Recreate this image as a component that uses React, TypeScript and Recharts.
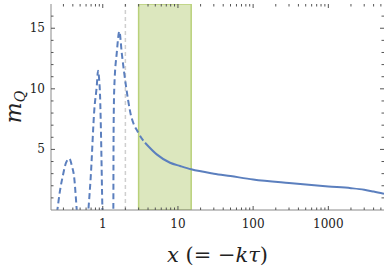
import React from "react";
import {
  ComposedChart,
  Line,
  XAxis,
  YAxis,
  ReferenceArea,
  ReferenceLine,
} from "recharts";

// ---- data ----
const dashedX = [
  0.235, 0.249, 0.27, 0.294, 0.325, 0.36, 0.39, 0.415, 0.451, 0.47,
  0.625, 0.644, 0.693, 0.773, 0.832, 0.866, 0.895, 0.92, 0.95, 0.99, 1.0,
  1.37, 1.383, 1.39, 1.405, 1.426, 1.535, 1.663, 1.79, 2.04, 2.31, 2.97, 3.65,
];
const dashedY = [
  -1.0, 0, 1.6, 2.8, 3.9, 4.24, 3.6, 2.8, 0, -1.5,
  -1.0, 0, 2.8, 8.3, 10.2, 11.5, 10.8, 9.5, 6.0, 0, -1.0,
  -1.0, 0, 5.0, 8.5, 10.2, 12.95, 14.75, 12.95, 10.2, 8.14, 6.37, 5.55,
];
const solidX = [3.65, 5.22, 7.85, 10.7, 15, 30, 50, 100, 300, 1000, 2000, 3000, 4000, 5500];
const solidY = [5.55, 4.59, 3.9, 3.63, 3.36, 3.0, 2.8, 2.52, 2.22, 1.94, 1.8, 1.67, 1.52, 1.33];

const xMajorTicks = [1, 10, 100, 1000];
const xMinorTicks = [
  0.3, 0.4, 0.5, 0.6, 0.7, 0.8, 0.9,
  2, 3, 4, 5, 6, 7, 8, 9,
  20, 30, 40, 50, 60, 70, 80, 90,
  200, 300, 400, 500, 600, 700, 800, 900,
  2000, 3000, 4000, 5000,
];
const yMajorTicks = [5, 10, 15];
const yMinorTicks = [1, 2, 3, 4, 6, 7, 8, 9, 11, 12, 13, 14, 16];

const xDomain = [0.205, 5500];
const yDomain = [0, 17];
const shadedRange = [3, 15];
const markerX = 2;

// ---- layout ----
const W = 387;
const H = 269;
const M = { top: 4, right: 3, left: 0, bottom: 0 };
const Y_AXIS_W = 51;
const X_AXIS_H = 59;
const PLOT_TOP = M.top;
const PLOT_BOTTOM = H - M.bottom - X_AXIS_H;
const PLOT_LEFT = M.left + Y_AXIS_W;
const PLOT_RIGHT = W - M.right;

const FONT = "DejaVu Serif, serif";
const TICK_COLOR = "#555";
const FRAME_COLOR = "#8a8a8a";
const LINE_COLOR = "#5b7fbe";

const data = (() => {
  const rows: { x: number; dashed: number | null; solid: number | null }[] = [];
  dashedX.forEach((x, i) => rows.push({ x, dashed: dashedY[i], solid: null }));
  solidX.forEach((x, i) => {
    const existing = rows.find((r) => r.x === x);
    if (existing) existing.solid = solidY[i];
    else rows.push({ x, dashed: null, solid: solidY[i] });
  });
  rows.sort((a, b) => a.x - b.x);
  return rows;
})();

const majorSet = new Set(xMajorTicks);
const yMajorSet = new Set(yMajorTicks);

const XTick = (props: any) => {
  const { x, payload } = props;
  const v = payload.value;
  const major = majorSet.has(v);
  const len = major ? 4 : 2.5;
  return (
    <g>
      <line x1={x} x2={x} y1={PLOT_BOTTOM} y2={PLOT_BOTTOM - len} stroke={TICK_COLOR} strokeWidth={1} />
      <line x1={x} x2={x} y1={PLOT_TOP} y2={PLOT_TOP + len} stroke={TICK_COLOR} strokeWidth={1} />
      {major && (
        <text x={x} y={PLOT_BOTTOM + 18} textAnchor="middle" style={{ fontFamily: FONT, fontSize: 12 }} fill="#222">
          {String(v)}
        </text>
      )}
    </g>
  );
};

const YTick = (props: any) => {
  const { y, payload } = props;
  const v = payload.value;
  const major = yMajorSet.has(v);
  const len = major ? 4 : 2.5;
  return (
    <g>
      <line x1={PLOT_LEFT} x2={PLOT_LEFT + len} y1={y} y2={y} stroke={TICK_COLOR} strokeWidth={1} />
      <line x1={PLOT_RIGHT} x2={PLOT_RIGHT - len} y1={y} y2={y} stroke={TICK_COLOR} strokeWidth={1} />
      {major && (
        <text x={PLOT_LEFT - 6} y={y + 4} textAnchor="end" style={{ fontFamily: FONT, fontSize: 12 }} fill="#222">
          {String(v)}
        </text>
      )}
    </g>
  );
};

const XLabel = () => (
  <text x={(PLOT_LEFT + PLOT_RIGHT) / 2} y={262} textAnchor="middle" style={{ fontFamily: FONT, fontSize: 21 }} fill="#222">
    <tspan fontStyle="italic">x</tspan>
    <tspan> (= −</tspan>
    <tspan fontStyle="italic">kτ</tspan>
    <tspan>)</tspan>
  </text>
);

const YLabel = () => {
  const cx = 21;
  const cy = (PLOT_TOP + PLOT_BOTTOM) / 2;
  return (
    <text
      x={cx}
      y={cy}
      transform={`rotate(-90, ${cx}, ${cy})`}
      textAnchor="middle"
      style={{ fontFamily: FONT }}
      fill="#222"
    >
      <tspan fontStyle="italic" fontSize={22}>m</tspan>
      <tspan fontStyle="italic" fontSize={14} dy={4}>Q</tspan>
    </text>
  );
};

export default function App() {
  const allXTicks = [...xMinorTicks, ...xMajorTicks].sort((a, b) => a - b);
  const allYTicks = [...yMinorTicks, ...yMajorTicks].sort((a, b) => a - b);
  return (
    <div style={{ position: "absolute", left: 0, top: 0, width: W, height: H, background: "#fff" }}>
      <ComposedChart width={W} height={H} data={data} margin={M}>
        <ReferenceArea
          x1={shadedRange[0]}
          x2={shadedRange[1]}
          y1={yDomain[0]}
          y2={yDomain[1]}
          fill="#a3bf55"
          fillOpacity={0.38}
          stroke="#b9d17a"
          strokeWidth={1.5}
          ifOverflow="hidden"
        />
        <ReferenceLine x={markerX} stroke="#cfcfcf" strokeWidth={1.5} strokeDasharray="4 3" />
        <Line
          dataKey="dashed"
          type="monotone"
          stroke={LINE_COLOR}
          strokeWidth={2}
          strokeDasharray="6 3.5"
          dot={false}
          activeDot={false}
          connectNulls={false}
          isAnimationActive={false}
        />
        <Line
          dataKey="solid"
          type="monotone"
          stroke={LINE_COLOR}
          strokeWidth={2}
          dot={false}
          activeDot={false}
          connectNulls={false}
          isAnimationActive={false}
        />
        <XAxis
          dataKey="x"
          type="number"
          scale="log"
          domain={xDomain}
          allowDataOverflow
          ticks={allXTicks}
          interval={0}
          tick={<XTick />}
          tickLine={false}
          axisLine={{ stroke: FRAME_COLOR }}
          height={X_AXIS_H}
        />
        <XAxis
          xAxisId="top"
          dataKey="x"
          type="number"
          scale="log"
          domain={xDomain}
          allowDataOverflow
          orientation="top"
          tick={false}
          tickLine={false}
          axisLine={{ stroke: FRAME_COLOR }}
          height={0}
        />
        <YAxis
          type="number"
          domain={yDomain}
          allowDataOverflow
          ticks={allYTicks}
          interval={0}
          tick={<YTick />}
          tickLine={false}
          axisLine={{ stroke: FRAME_COLOR }}
          width={Y_AXIS_W}
        />
        <YAxis
          yAxisId="right"
          type="number"
          domain={yDomain}
          allowDataOverflow
          orientation="right"
          tick={false}
          tickLine={false}
          axisLine={{ stroke: FRAME_COLOR }}
          width={0}
        />
        <XLabel />
        <YLabel />
      </ComposedChart>
    </div>
  );
}
